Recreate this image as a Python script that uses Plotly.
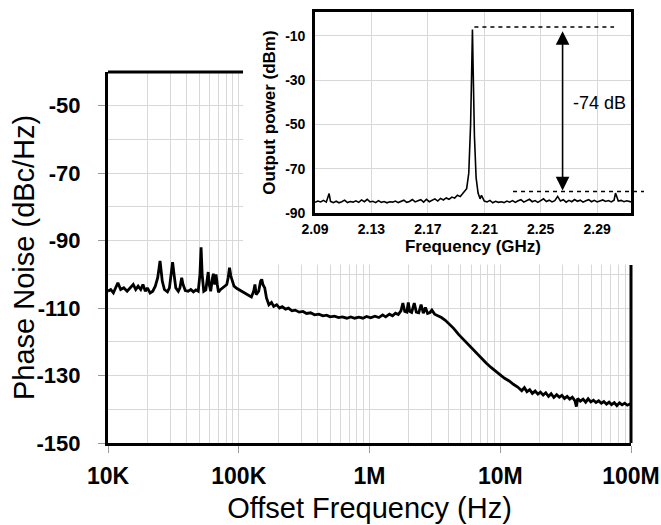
import plotly.graph_objects as go

# ---------------- main phase-noise curve ----------------
offset_hz = [
    10e3, 10.5e3, 11e3, 11.9e3, 12.5e3, 13.2e3, 14e3, 15e3, 15.6e3, 16.3e3,
    17e3, 17.8e3, 18.5e3, 19.3e3, 20e3, 21e3, 22e3, 23e3, 24e3, 24.6e3,
    25e3, 25.5e3, 26e3, 27e3, 28.5e3, 29.5e3, 30.5e3, 31.2e3, 32e3, 33e3,
    34.5e3, 35.5e3, 36.6e3, 37.5e3, 39e3, 41e3, 43e3, 45e3, 47e3, 49e3,
    50.5e3, 51.5e3, 52.5e3, 54e3, 56e3, 57.5e3, 58.4e3, 59.5e3, 61e3, 63e3,
    64e3, 65.5e3, 67e3, 68.5e3, 70e3, 72e3, 75e3, 78e3, 81e3, 83e3,
    85e3, 87e3, 89e3, 92e3, 97e3, 103e3, 110e3, 118e3, 125e3, 130e3,
    133e3, 136e3, 142e3, 147e3, 150e3, 153e3, 158e3, 163e3, 170e3, 178e3,
    185e3, 195e3, 205e3, 215e3, 228e3, 240e3, 255e3, 270e3, 290e3, 310e3,
    330e3, 355e3, 380e3, 410e3, 440e3, 470e3, 500e3, 540e3, 580e3, 620e3,
    670e3, 720e3, 770e3, 830e3, 890e3, 950e3, 1.02e6, 1.1e6, 1.18e6, 1.26e6,
    1.33e6, 1.42e6, 1.5e6, 1.58e6, 1.66e6, 1.74e6, 1.8e6, 1.86e6, 1.93e6, 1.98e6,
    2.03e6, 2.1e6, 2.2e6, 2.28e6, 2.38e6, 2.48e6, 2.58e6, 2.68e6, 2.78e6, 2.9e6,
    3.0e6, 3.15e6, 3.35e6, 3.55e6, 3.8e6, 4.1e6, 4.4e6, 4.8e6, 5.2e6, 5.6e6,
    6.1e6, 6.6e6, 7.2e6, 7.8e6, 8.5e6, 9.2e6, 10e6, 10.8e6, 11.7e6, 12.6e6,
    13.6e6, 14.6e6, 15.3e6, 16e6, 16.8e6, 17.6e6, 18.5e6, 19.4e6, 20.3e6, 21.3e6,
    22.3e6, 23.4e6, 24.5e6, 25.7e6, 27e6, 28.3e6, 29.6e6, 31e6, 32.5e6, 34e6,
    35.6e6, 37.3e6, 38.2e6, 39.1e6, 41e6, 43e6, 45e6, 47e6, 49.3e6, 51.6e6,
    54e6, 56.6e6, 59.3e6, 62e6, 65e6, 68e6, 71e6, 74.5e6, 78e6, 81.7e6,
    85.5e6, 89.5e6, 93.7e6, 100e6,
]
phase_noise = [
    -105, -104.5, -105.5, -102.5, -104.5, -104, -105, -103.5, -103, -104.5,
    -103.5, -104.5, -103, -105, -104, -105.5, -105, -103.5, -101, -98,
    -96, -99, -102, -104.5, -105.2, -104, -99, -96.4, -100, -104,
    -105, -104, -101, -103, -104.8, -105, -104.5, -105.2, -104.6, -105,
    -100, -92, -100, -105, -104.6, -102, -99.3, -103, -105, -101,
    -99.8, -103, -100, -103, -105.3, -104.6, -104, -103.5, -103, -101,
    -98, -100.5, -102, -103.5, -104.2, -104.8, -105.5, -106.2, -106.7, -105,
    -103, -106, -105, -102, -101.5, -103, -104, -107, -109, -108.3,
    -109.5, -109, -110, -109.6, -110.3, -110, -110.8, -110.6, -111.2, -111,
    -111.6, -111.4, -112, -111.8, -112.3, -112.1, -112.6, -112.4, -112.8, -112.6,
    -113, -112.6, -113, -112.7, -113, -112.5, -112.9, -112.4, -112.8, -112,
    -112.6, -111.8, -112.3, -111.5, -111.9, -110.8, -108.5, -111, -111.2, -108.3,
    -111, -111.3, -108.5, -111.2, -111.4, -109, -111.5, -109.8, -111.6, -111.3,
    -110.6, -111.8, -112.2, -112.8, -113.6, -114.7, -116, -117.8, -119.2, -120.7,
    -122.2, -123.6, -125, -126.3, -127.6, -128.8, -129.8, -130.8, -131.6, -132.6,
    -133.4, -134.5, -133.6, -134.8, -134.2, -135.3, -134.6, -135.5, -134.9, -135.8,
    -135.1, -136.2, -135.4, -136.5, -135.7, -136.4, -135.9, -136.8, -136.2, -137,
    -136.4, -137.5, -139.2, -136.8, -137.6, -137, -137.9, -136.9, -137.8, -137.3,
    -138, -137.5, -138.2, -137.7, -138.5, -137.9, -138.6, -138, -138.9, -138.1,
    -138.7, -138.2, -138.8, -138.3,
]
x_tick_vals = [1e4, 1e5, 1e6, 1e7, 1e8]
x_tick_text = ["10K", "100K", "1M", "10M", "100M"]
y_tick_vals = [-150, -130, -110, -90, -70, -50]
y_tick_text = ["-150", "-130", "-110", "-90", "-70", "-50"]
y_title = "Phase Noise (dBc/Hz)"

# ---------------- inset spectrum ----------------
freq_ghz = [
    2.090, 2.092, 2.094, 2.096, 2.098, 2.100, 2.101, 2.103, 2.105, 2.107,
    2.109, 2.111, 2.113, 2.115, 2.117, 2.119, 2.121, 2.123, 2.125, 2.127,
    2.129, 2.131, 2.133, 2.135, 2.137, 2.139, 2.141, 2.143, 2.145, 2.147,
    2.149, 2.151, 2.153, 2.155, 2.157, 2.159, 2.161, 2.163, 2.165, 2.167,
    2.169, 2.171, 2.173, 2.175, 2.177, 2.179, 2.181, 2.183, 2.185, 2.187,
    2.189, 2.191, 2.193, 2.195, 2.1975, 2.1990, 2.2003, 2.2010, 2.2016, 2.2022,
    2.2030, 2.2042, 2.2056, 2.207, 2.208, 2.210, 2.212, 2.214, 2.216, 2.218,
    2.220, 2.222, 2.224, 2.226, 2.228, 2.230, 2.232, 2.234, 2.236, 2.238,
    2.240, 2.242, 2.244, 2.246, 2.248, 2.250, 2.252, 2.254, 2.256, 2.258,
    2.260, 2.262, 2.264, 2.266, 2.268, 2.270, 2.272, 2.274, 2.276, 2.278,
    2.280, 2.282, 2.284, 2.286, 2.288, 2.290, 2.292, 2.294, 2.296, 2.298,
    2.300, 2.302, 2.303, 2.305, 2.307, 2.309, 2.311, 2.314,
]
power_dbm = [
    -85.2, -84.6, -85.0, -84.3, -85.1, -81.2, -84.8, -85.3, -84.7, -85.4,
    -84.9, -84.2, -85.3, -84.8, -85.1, -84.5, -85.2, -84.1, -84.9, -83.8,
    -85.0, -84.7, -85.3, -84.4, -85.2, -84.8, -85.4, -84.9, -85.1, -84.6,
    -85.3, -84.7, -84.2, -85.2, -84.8, -83.9, -85.0, -84.5, -84.0, -85.1,
    -83.8, -84.9, -84.2, -83.6, -84.6, -83.4, -84.1, -83.2, -83.8, -82.8,
    -83.3, -82.0, -82.6, -81.0, -79.0, -72.0, -50.0, -28.0, -7.1, -28.0,
    -55.0, -74.0, -81.0, -83.6, -82.0, -84.6, -85.0, -84.3, -85.4, -84.7,
    -85.2, -84.9, -85.3, -84.6, -85.1, -84.4, -85.2, -84.5, -84.0, -85.1,
    -84.6, -83.8, -84.9, -84.4, -85.2, -84.3, -83.6, -84.8, -84.2, -85.0,
    -84.4, -82.5, -84.6, -84.0, -85.1, -84.3, -84.9, -83.9, -84.7, -84.2,
    -85.1, -84.5, -84.0, -84.9, -84.3, -85.0, -84.6, -84.1, -84.8, -84.4,
    -85.0, -84.2, -81.0, -84.6, -84.3, -84.9, -84.5, -85.0,
]
inset_x_ticks = [2.09, 2.13, 2.17, 2.21, 2.25, 2.29]
inset_x_text = ["2.09", "2.13", "2.17", "2.21", "2.25", "2.29"]
inset_y_ticks = [-90, -70, -50, -30, -10]
inset_y_text = ["-90", "-70", "-50", "-30", "-10"]
carrier_level = -6.0
floor_level = -80.3
delta_label = "-74 dB"

GRID = "#d8d8d8"
FONT = "Liberation Sans, Arial, sans-serif"

fig = go.Figure()

# white mask: the inset panel hides the main grid behind it
fig.add_trace(go.Scatter(
    x=[1.08e5, 1.2e8, 1.2e8, 1.08e5, 1.08e5],
    y=[-97.1, -97.1, -38, -38, -97.1],
    fill="toself", fillcolor="white", line=dict(width=0),
    mode="lines", hoverinfo="skip", showlegend=False, xaxis="x", yaxis="y",
))

fig.add_trace(go.Scatter(
    x=offset_hz, y=phase_noise, mode="lines",
    line=dict(color="black", width=2.8),
    showlegend=False, xaxis="x", yaxis="y",
))

fig.add_trace(go.Scatter(
    x=freq_ghz, y=power_dbm, mode="lines",
    line=dict(color="black", width=1.6),
    showlegend=False, xaxis="x2", yaxis="y2",
))

main_y_top = 371 / 431

fig.update_layout(
    width=661, height=525,
    margin=dict(l=108, r=30, t=12, b=82, autoexpand=False),
    paper_bgcolor="white", plot_bgcolor="white",
    font=dict(family=FONT, color="black"),
    xaxis=dict(
        type="log", range=[4, 8], domain=[0, 1], anchor="y", automargin=False,
        tickvals=x_tick_vals, ticktext=x_tick_text,
        tickfont=dict(family=FONT, size=23, weight="bold"),
        ticks="outside", ticklen=7, tickcolor="#9a9a9a", tickwidth=1,
        ticklabelstandoff=3,
        showgrid=True, gridcolor=GRID, gridwidth=1,
        minor=dict(dtick="D1", showgrid=True, gridcolor=GRID, gridwidth=1, ticks=""),
        showline=True, linecolor="black", linewidth=3,
        title=dict(text="Offset Frequency (Hz)", font=dict(family=FONT, size=29), standoff=11),
        zeroline=False,
    ),
    yaxis=dict(
        range=[-150, -40], domain=[0, main_y_top], anchor="x", automargin=False,
        tickvals=y_tick_vals, ticktext=y_tick_text,
        tickfont=dict(family=FONT, size=22, weight="bold"),
        ticks="outside", ticklen=7, tickcolor="#9a9a9a", tickwidth=1,
        ticklabelstandoff=13,
        showgrid=True, gridcolor=GRID, gridwidth=1,
        minor=dict(dtick=10, tick0=-150, showgrid=True, gridcolor=GRID, gridwidth=1, ticks=""),
        showline=True, linecolor="black", linewidth=3,
        zeroline=False,
    ),
    xaxis2=dict(
        range=[2.09, 2.314], domain=[(315 - 108) / 523, 1.0], anchor="y2", automargin=False,
        tickvals=inset_x_ticks, ticktext=inset_x_text,
        tickfont=dict(family=FONT, size=14, weight="bold"),
        ticks="", ticklabelstandoff=1,
        showgrid=True, gridcolor=GRID, gridwidth=1,
        showline=True, mirror=True, linecolor="black", linewidth=2.6,
        title=dict(text="Frequency (GHz)", font=dict(family=FONT, size=17, weight="bold"), standoff=1),
        zeroline=False,
    ),
    yaxis2=dict(
        range=[-90, 0.8], domain=[(443 - 213) / 431, 1.0], anchor="x2", automargin=False,
        tickvals=inset_y_ticks, ticktext=inset_y_text,
        tickfont=dict(family=FONT, size=14, weight="bold"),
        ticks="", ticklabelstandoff=4,
        showgrid=True, gridcolor=GRID, gridwidth=1,
        showline=True, mirror=True, linecolor="black", linewidth=2.6,
        title=dict(text="Output power (dBm)", font=dict(family=FONT, size=17, weight="bold"), standoff=6),
        zeroline=False,
    ),
    shapes=[
        dict(type="line", xref="x domain", yref="y domain", x0=0, x1=(243 - 108) / 523, y0=1, y1=1,
             line=dict(color="black", width=3), layer="above"),
        dict(type="line", xref="x domain", yref="y domain", x0=1, x1=1, y0=0, y1=(443 - 265) / 371,
             line=dict(color="black", width=3), layer="above"),
        dict(type="line", xref="x2", yref="y2", x0=2.203, x1=2.302, y0=carrier_level, y1=carrier_level,
             line=dict(color="black", width=1.5, dash="4px,4px"), layer="above"),
        dict(type="line", xref="paper", yref="y2", x0=(513 - 108) / 523, x1=(644 - 108) / 523,
             y0=floor_level, y1=floor_level,
             line=dict(color="black", width=1.5, dash="4px,4px"), layer="above"),
    ],
    annotations=[
        dict(x=2.2655, y=floor_level + 0.5, ax=2.2655, ay=carrier_level - 1.2,
             xref="x2", yref="y2", axref="x2", ayref="y2",
             text="", showarrow=True, arrowhead=2, startarrowhead=2, arrowside="end+start",
             arrowsize=1.7, startarrowsize=1.7, arrowwidth=1.6, arrowcolor="black"),
        dict(x=2.292, y=-40.3, xref="x2", yref="y2", text=delta_label, showarrow=False,
             font=dict(family=FONT, size=18, color="black"), bgcolor="rgba(0,0,0,0)"),
        dict(x=(24 - 108) / 523, y=(443 - 258) / 431, xref="paper", yref="paper",
             text=y_title, textangle=-90, showarrow=False,
             xanchor="center", yanchor="middle",
             font=dict(family=FONT, size=29, color="black")),
    ],
)

fig.write_html(
    "out.html",
    config={"displayModeBar": False},
    post_script="document.body.style.margin='0';document.body.style.overflow='hidden';",
)
